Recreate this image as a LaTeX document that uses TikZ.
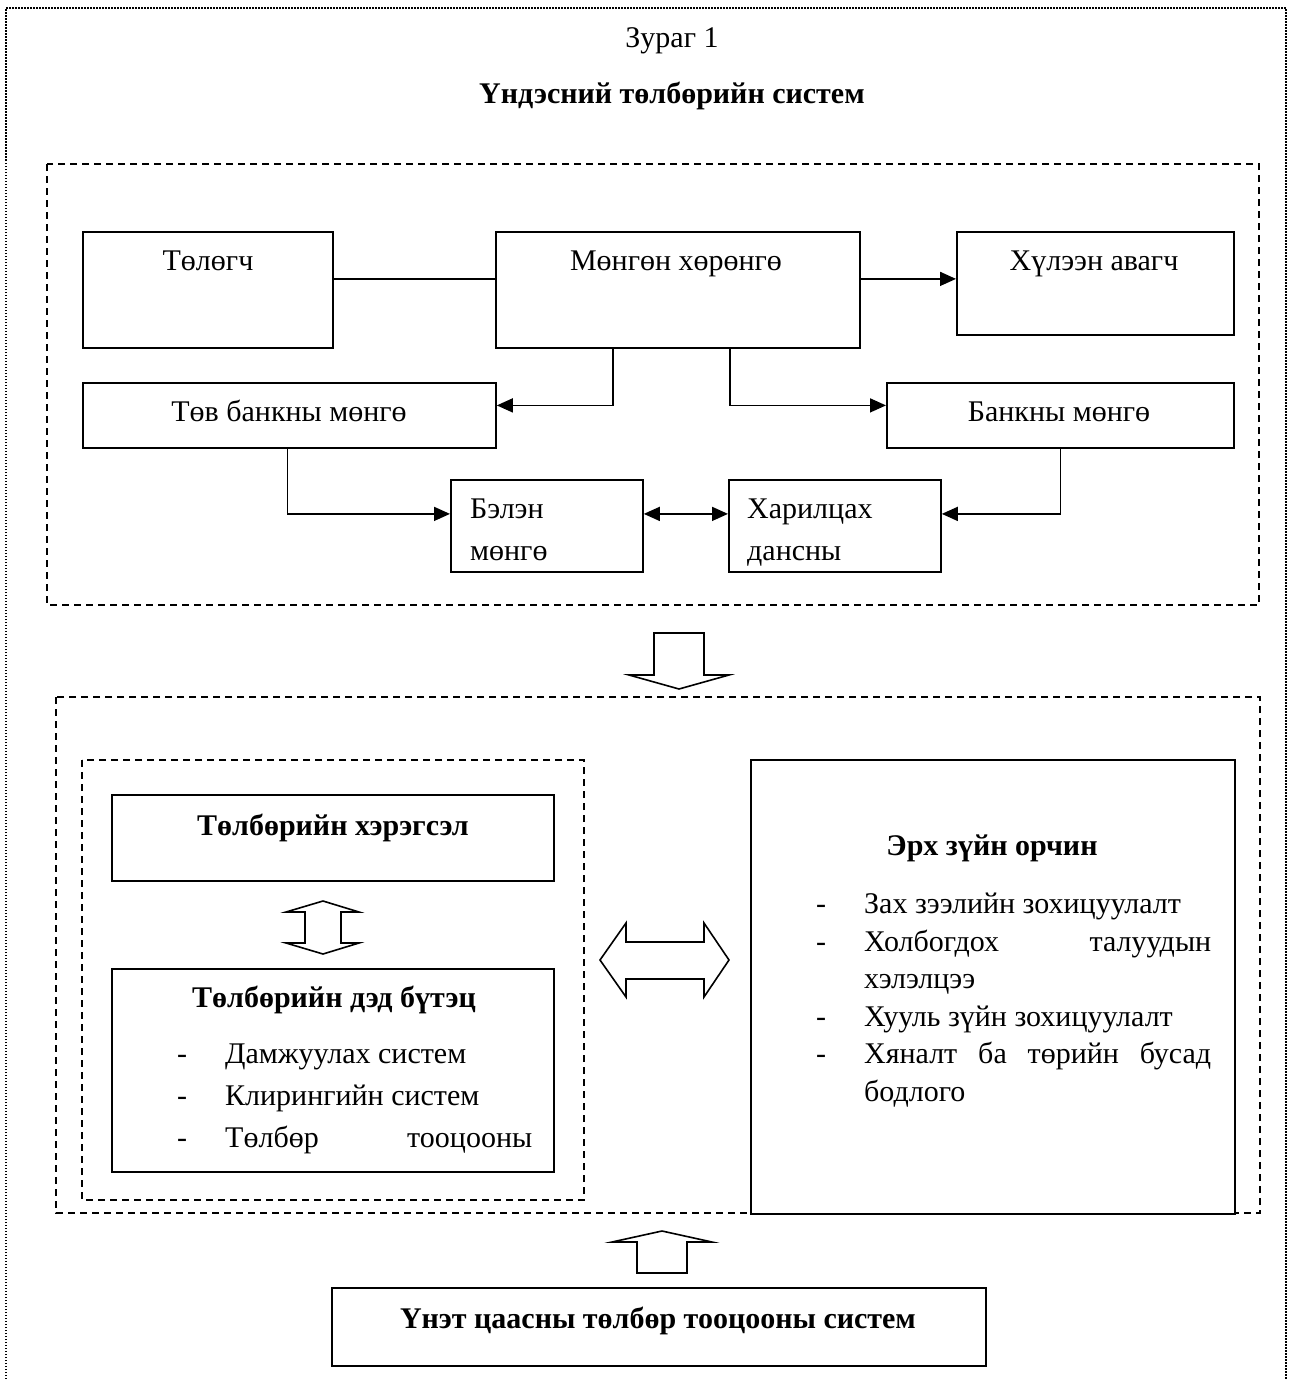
\documentclass[tikz,border=0pt]{standalone}
\usepackage{fontspec}
\setmainfont{Liberation Serif}
\usetikzlibrary{arrows.meta}
\tikzset{
  box/.style={draw, line width=1.8pt, anchor=north west, inner sep=0pt},
  txt/.style={font=\fontsize{30}{36}\selectfont, anchor=base, inner sep=0pt},
  btxt/.style={txt, font=\fontsize{30}{36}\selectfont\bfseries},
  link/.style={line width=1.6pt},
  arr/.style={link, -{Triangle[length=16pt,width=14pt]}},
  arrtwo/.style={link, {Triangle[length=16pt,width=14pt]}-{Triangle[length=16pt,width=14pt]}},
  frame/.style={line width=1.5pt, dash pattern=on 7pt off 5pt},
  hollow/.style={line width=1.6pt, line join=miter}
}
\begin{document}
\begin{tikzpicture}[x=1pt, y=-1pt]
                \useasboundingbox (0, 0) rectangle (1289, 1379);

                 \draw[line width=1.5pt, dash pattern=on 1.5pt off 1.5pt] (6, 1379) -- (6, 8) -- (1286, 8) -- (1286, 1379);
                    \node[txt] (fig) at (672, 47){Зураг 1};
                    \node[btxt] (title) at (672, 103){Үндэсний төлбөрийн систем};

                 \draw[frame] (47, 164) rectangle (1259, 605);
                    \node[box, minimum width=250pt, minimum height=116pt] (payer) at (82, 231){};
                        \node[txt] (payert) at (208, 270){Төлөгч};
                    \node[box, minimum width=364pt, minimum height=116pt] (money) at (495, 231){};
                        \node[txt] (moneyt) at (676, 270){Мөнгөн хөрөнгө};
                    \node[box, minimum width=277pt, minimum height=103pt] (payee) at (956, 231){};
                        \node[txt] (payeet) at (1094, 270){Хүлээн авагч};
                    \node[box, minimum width=413pt, minimum height=65pt] (cbank) at (82, 382){};
                        \node[txt] (cbankt) at (289, 421){Төв банкны мөнгө};
                    \node[box, minimum width=347pt, minimum height=65pt] (bank) at (886, 382){};
                        \node[txt] (bankt) at (1059, 421){Банкны мөнгө};
                    \node[box, minimum width=192pt, minimum height=92pt] (cash) at (450, 479){};
                        \node[txt, anchor=base west] (casht) at (470, 518){Бэлэн};
                        \node[txt, anchor=base west] (cashb) at (470, 560){мөнгө};
                    \node[box, minimum width=212pt, minimum height=92pt] (acct) at (728, 479){};
                        \node[txt, anchor=base west] (acctt) at (747, 518){Харилцах};
                        \node[txt, anchor=base west] (acctb) at (747, 560){дансны};

                    \draw[link] ([yshift=11pt]payer.east) -- ([yshift=11pt]money.west);
                    \draw[arr] ([yshift=11pt]money.east) -- ([yshift=11pt]money.east -| payee.west);
                    \draw[arr] ([xshift=-65pt]money.south) |- ([yshift=10pt]cbank.east);
                    \draw[arr] ([xshift=52pt]money.south) |- ([yshift=10pt]bank.west);
                    \draw[arr] ([xshift=-2pt]cbank.south) |- ([yshift=12pt]cash.west);
                    \draw[arrtwo] ([yshift=12pt]cash.east) -- ([yshift=12pt]acct.west);
                    \draw[arr] (bank.south) |- ([yshift=12pt]acct.east);

                 \draw[hollow] (654, 633) -- (704, 633) -- (704, 675) -- (729, 675) -- (679, 689) -- (629, 675) -- (654, 675) -- cycle;

                 \draw[frame] (56, 697) rectangle (1260, 1213);
                 \draw[frame] (82, 760) rectangle (584, 1200);
                    \node[box, minimum width=442pt, minimum height=86pt] (tool) at (111, 794){};
                        \node[btxt] (toolt) at (333, 835){Төлбөрийн хэрэгсэл};
                    \draw[hollow] (323, 901) -- (359, 912) -- (341, 912) -- (341, 943) -- (359, 943) -- (323, 954) -- (286, 943) -- (305, 943) -- (305, 912) -- (286, 912) -- cycle;
                    \node[box, minimum width=442pt, minimum height=203pt] (infra) at (111, 968){};
                        \node[btxt] (infrat) at (334, 1007){Төлбөрийн дэд бүтэц};
                        \node[txt] (d1) at (182, 1063){-};
                        \node[txt, anchor=base west] (i1) at (225, 1063){Дамжуулах систем};
                        \node[txt] (d2) at (182, 1105){-};
                        \node[txt, anchor=base west] (i2) at (225, 1105){Клирингийн систем};
                        \node[txt] (d3) at (182, 1147){-};
                        \node[txt, anchor=base west] (i3) at (225, 1147){\makebox[307pt][s]{Төлбөр тооцооны}};

                 \draw[hollow] (600, 960) -- (626, 923) -- (626, 942) -- (704, 942) -- (704, 923) -- (729, 960) -- (704, 997) -- (704, 979) -- (626, 979) -- (626, 997) -- cycle;

                    \node[box, fill=white, minimum width=484pt, minimum height=454pt] (legal) at (750, 759){};
                        \node[btxt] (legalt) at (992, 855){Эрх зүйн орчин};
                        \node[txt] (e1) at (821, 913){-};
                        \node[txt, anchor=base west] (l1) at (864, 913){Зах зээлийн зохицуулалт};
                        \node[txt] (e2) at (821, 951){-};
                        \node[txt, anchor=base west] (l2) at (864, 951){\makebox[347pt][s]{Холбогдох талуудын}};
                        \node[txt, anchor=base west] (l2b) at (864, 988){хэлэлцээ};
                        \node[txt] (e3) at (821, 1026){-};
                        \node[txt, anchor=base west] (l3) at (864, 1026){Хууль зүйн зохицуулалт};
                        \node[txt] (e4) at (821, 1063){-};
                        \node[txt, anchor=base west] (l4) at (864, 1063){\makebox[347pt][s]{Хяналт ба төрийн бусад}};
                        \node[txt, anchor=base west] (l4b) at (864, 1101){бодлого};

                 \draw[hollow] (662, 1231) -- (712, 1242) -- (687, 1242) -- (687, 1273) -- (637, 1273) -- (637, 1242) -- (612, 1242) -- cycle;
                    \node[box, minimum width=654pt, minimum height=78pt] (sec) at (331, 1287){};
                        \node[btxt] (sect) at (658, 1328){Үнэт цаасны төлбөр тооцооны систем};

\end{tikzpicture}
\end{document}
